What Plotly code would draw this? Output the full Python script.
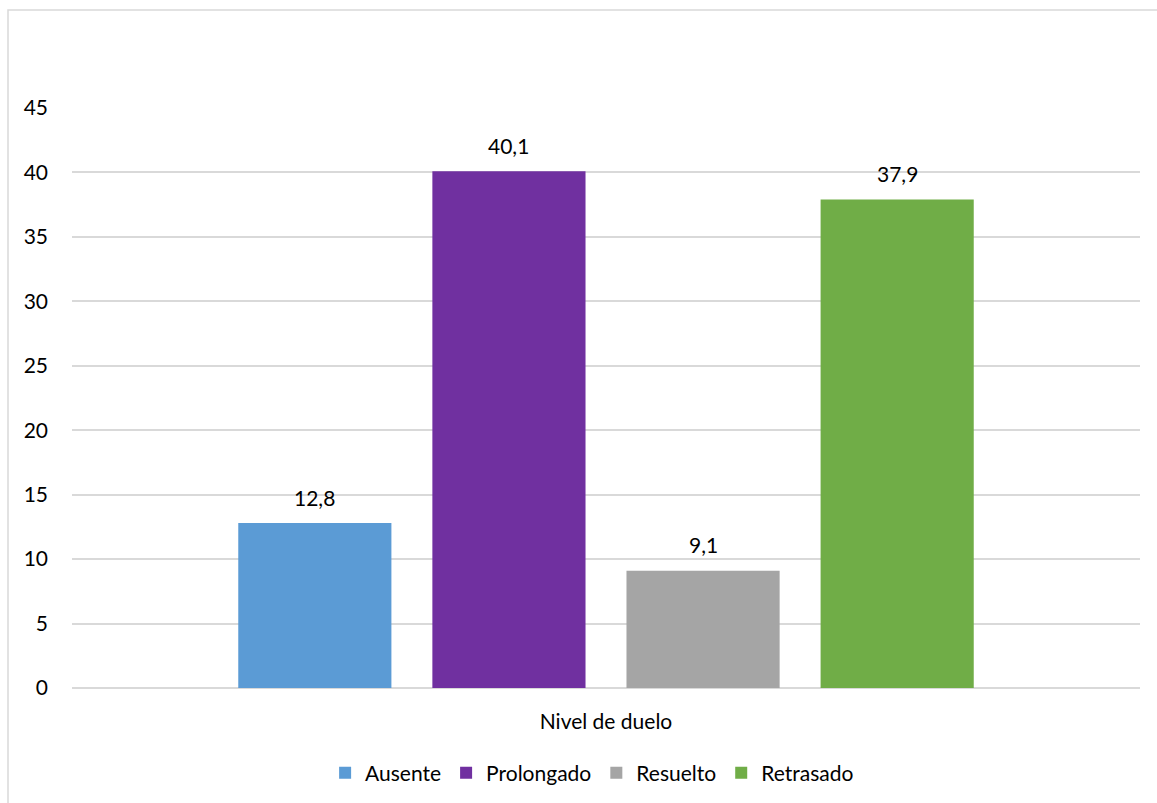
import plotly.graph_objects as go

# Data
category = ["Nivel de duelo"]
series_names = ["Ausente", "Prolongado", "Resuelto", "Retrasado"]
series_values = [12.8, 40.1, 9.1, 37.9]
series_colors = ["#5B9BD5", "#7030A0", "#A5A5A5", "#70AD47"]
y_ticks = [0, 5, 10, 15, 20, 25, 30, 35, 40, 45]

# Layout geometry (pixels)
W, H = 1157, 803
M_L, M_R, M_T, M_B = 72, 17, 108, 115
BARGAP = 0.273
BARGROUPGAP = 0.211
FONT = "Lato, 'Open Sans', sans-serif"
FS = 21

fig = go.Figure()
for name, val, col in zip(series_names, series_values, series_colors):
    fig.add_trace(go.Bar(
        x=category, y=[val], name=name,
        marker=dict(color=col, line=dict(width=0)),
    ))

# Value labels above each bar, placed at the centre of its slot in the group
plot_w = W - M_L - M_R
group_w = plot_w * (1 - BARGAP)
slot_w = group_w / len(series_names)
for i, val in enumerate(series_values):
    shift = -group_w / 2 + slot_w * (i + 0.5)
    fig.add_annotation(
        x=category[0], y=val, xref="x", yref="y",
        text=f"{val:.1f}".replace(".", ","),
        showarrow=False, xshift=shift, yshift=26,
        font=dict(size=FS, color="#000000", family=FONT),
    )

# Light frame round the chart area
plot_h = H - M_T - M_B
fig.add_shape(
    type="rect", xref="paper", yref="paper",
    x0=(8 - M_L) / plot_w, x1=(W + 5 - M_L) / plot_w,
    y0=(H - M_B - (H + 5)) / plot_h, y1=1 + (M_T - 10) / plot_h,
    line=dict(color="#d9d9d9", width=1.5), fillcolor="rgba(0,0,0,0)",
    layer="below",
)

fig.update_layout(
    width=W, height=H,
    margin=dict(l=M_L, r=M_R, t=M_T, b=M_B, autoexpand=False),
    paper_bgcolor="white", plot_bgcolor="white",
    barmode="group", bargap=BARGAP, bargroupgap=BARGROUPGAP,
    font=dict(family=FONT, size=FS, color="#000000"),
    showlegend=True,
    legend=dict(
        orientation="h", x=0.487, xanchor="center",
        y=(H - M_B - 773) / plot_h, yanchor="middle",
        font=dict(size=FS), itemwidth=30, traceorder="normal",
    ),
    xaxis=dict(
        showgrid=False, showline=False, zeroline=False, ticks="",
        ticklabelstandoff=19, tickfont=dict(size=FS),
    ),
    yaxis=dict(
        range=[0, 45], tickvals=y_ticks, showgrid=True,
        gridcolor="#d9d9d9", gridwidth=1.5, zeroline=True,
        zerolinecolor="#d9d9d9", zerolinewidth=1.5, showline=False,
        ticks="", ticklabelstandoff=23, tickfont=dict(size=FS),
    ),
)

fig.write_html("out.html")
